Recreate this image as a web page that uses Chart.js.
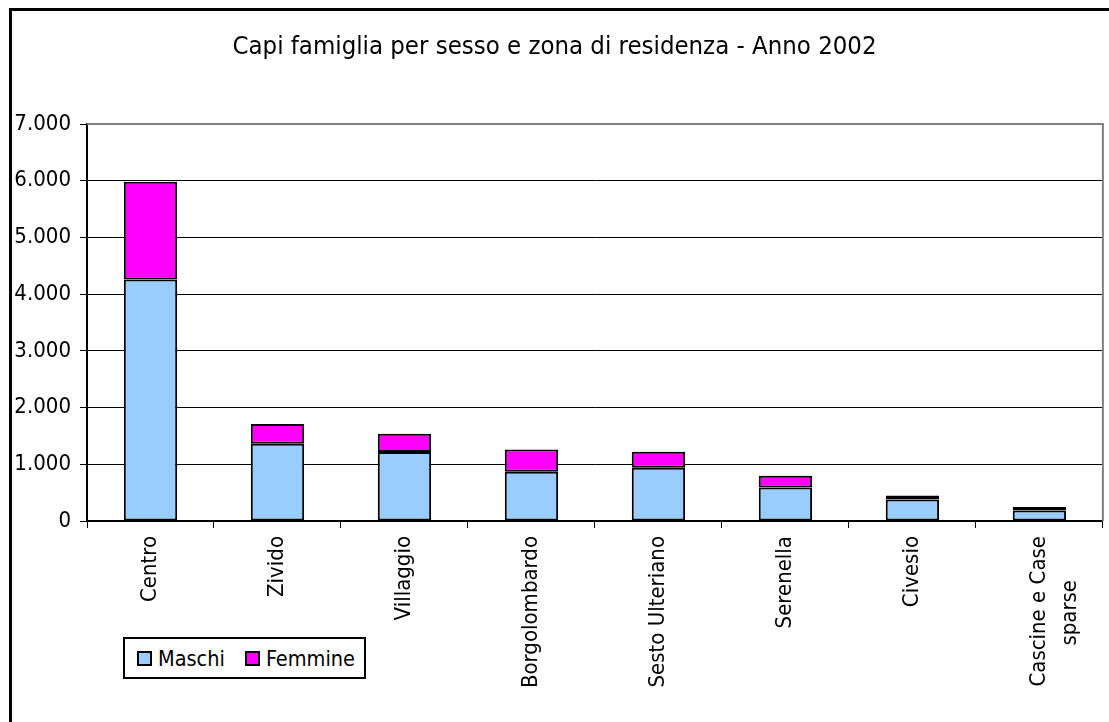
<!DOCTYPE html>
<html>
<head>
<meta charset="utf-8">
<script src="https://cdn.jsdelivr.net/npm/chart.js@4/dist/chart.umd.min.js"></script>
<style>
  body { margin: 0; background: #fff; }
  #wrap { position: relative; width: 1109px; height: 722px; overflow: hidden; }
  #frame { position: absolute; left: 9px; top: 8px; width: 1200px; height: 800px; border: 3px solid #000; }
  canvas { position: absolute; left: 0; top: 0; }
  #legend {
    position: absolute; left: 123px; top: 637px; width: 243px; height: 42px;
    border: 2px solid #000; background: #fff; box-sizing: border-box;
    font: 21.5px "DejaVu Sans Condensed", "DejaVu Sans", sans-serif; color: #000;
    display: flex; align-items: center; padding-left: 12px;
  }
  #legend .item { display: flex; align-items: center; margin-right: 20px; }
  #legend .sw { width: 11px; height: 11px; border: 2px solid #000; margin-right: 6px; }
</style>
</head>
<body>
<div id="wrap">
  <div id="frame"></div>
  <canvas id="chart" width="1109" height="722"></canvas>
  <div id="legend"></div>
</div>
<script>
const titleText = 'Capi famiglia per sesso e zona di residenza - Anno 2002';
const zones = ['Centro', 'Zivido', 'Villaggio', 'Borgolombardo', 'Sesto Ulteriano', 'Serenella', 'Civesio', ['Cascine e Case', 'sparse       ']];
const maschi = [4260, 1360, 1215, 870, 940, 590, 380, 185];
const femmine = [1720, 350, 325, 390, 280, 210, 70, 60];
const yTicks = [0, 1000, 2000, 3000, 4000, 5000, 6000, 7000];

const FONT = '"DejaVu Sans Condensed", "DejaVu Sans", sans-serif';

function fmt(v) {
  return String(v).replace(/\B(?=(\d{3})+(?!\d))/g, '.');
}

const plotBorder = {
  id: 'plotBorder',
  beforeDatasetsDraw(chart) {
    const { ctx, chartArea } = chart;
    ctx.save();
    ctx.strokeStyle = '#808080';
    ctx.lineWidth = 2;
    ctx.beginPath();
    ctx.moveTo(chartArea.left, chartArea.top);
    ctx.lineTo(chartArea.right, chartArea.top);
    ctx.lineTo(chartArea.right, chartArea.bottom);
    ctx.stroke();
    ctx.restore();
  }
};

const chart = new Chart(document.getElementById('chart'), {
  type: 'bar',
  data: {
    labels: zones,
    datasets: [
      { label: 'Maschi', data: maschi, backgroundColor: '#99CCFF' },
      { label: 'Femmine', data: femmine, backgroundColor: '#FF00FF' }
    ]
  },
  options: {
    responsive: false,
    animation: false,
    layout: { padding: { left: 0, right: 0, top: 0, bottom: 0 } },
    datasets: {
      bar: {
        borderColor: '#000',
        borderWidth: 2,
        borderSkipped: false,
        categoryPercentage: 1,
        barPercentage: 0.42
      }
    },
    scales: {
      x: {
        stacked: true,
        afterFit(scale) { scale.height = 201; },
        grid: { drawOnChartArea: false, drawTicks: true, tickLength: 7, color: '#000', offset: true },
        border: { color: '#000', width: 2 },
        ticks: {
          color: '#000',
          font: { family: FONT, size: 22, lineHeight: 1.4 },
          minRotation: 90,
          maxRotation: 90,
          padding: 8,
          autoSkip: false
        }
      },
      y: {
        stacked: true,
        min: 0,
        max: 7000,
        afterFit(scale) { scale.width = 87; },
        afterBuildTicks(scale) { scale.ticks = yTicks.map(v => ({ value: v })); },
        grid: {
          color: c => (c.tick && c.tick.value === 7000 ? 'rgba(0,0,0,0)' : '#000'),
          tickColor: '#000',
          tickLength: 7,
          lineWidth: 1
        },
        border: { color: '#000', width: 2 },
        ticks: {
          color: '#000',
          font: { family: FONT, size: 22 },
          padding: 9,
          callback: v => fmt(v)
        }
      }
    },
    plugins: {
      legend: { display: false },
      tooltip: { enabled: false },
      title: {
        display: true,
        text: titleText,
        color: '#000',
        font: { family: FONT, size: 25.5, weight: 'normal', lineHeight: 1.2 },
        padding: { top: 32, bottom: 61.4 }
      }
    }
  },
  plugins: [plotBorder]
});

document.getElementById('legend').innerHTML = chart.data.datasets.map(ds =>
  `<span class="item"><span class="sw" style="background:${ds.backgroundColor}"></span>${ds.label}</span>`
).join('');
</script>
</body>
</html>
